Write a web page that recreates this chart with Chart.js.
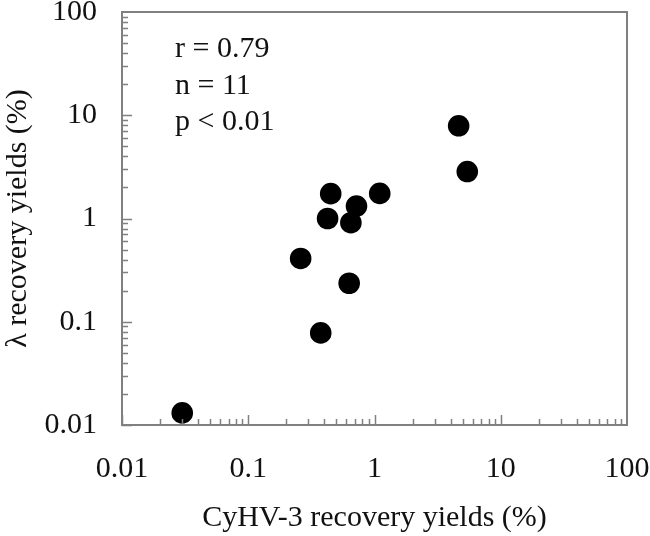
<!DOCTYPE html>
<html>
<head>
<meta charset="utf-8">
<script src="https://cdn.jsdelivr.net/npm/chart.js@4/dist/chart.umd.min.js"></script>
<style>
  html, body { margin: 0; padding: 0; background: #fff; }
  #wrap { width: 650px; height: 536px; }
</style>
</head>
<body>
<div id="wrap"><canvas id="scatter"></canvas></div>
<script>
// CyHV-3 vs lambda recovery yields (%)
const cyhvYields = [4.64, 5.43, 0.45, 1.10, 0.72, 0.425, 0.65, 0.26, 0.63, 0.375, 0.030];
const lambdaYields = [7.9, 2.85, 1.74, 1.75, 1.32, 1.0, 0.91, 0.41, 0.236, 0.078, 0.0131];
const decadeTicks = [0.01, 0.1, 1, 10, 100];
const statLines = ['r = 0.79', 'n = 11', 'p < 0.01'];

const axisGray = '#808080';
const serif = "'Liberation Serif', 'Times New Roman', serif";

const points = cyhvYields.map((x, i) => ({ x: x, y: lambdaYields[i] }));

// box around the plot, inward log ticks, and the stats text
const framePlugin = {
    id: 'frame',
    afterDraw(chart) {
        const ctx = chart.ctx;
        const area = chart.chartArea;
        const xs = chart.scales.x, ys = chart.scales.y;
        ctx.save();
        ctx.strokeStyle = axisGray;
        ctx.lineWidth = 1.5;
        for (let p = -2; p < 2; p++) {
            for (let k = 1; k <= 9; k++) {
                const v = k * Math.pow(10, p);
                const len = k === 1 ? 10 : 6;
                const px = Math.round(xs.getPixelForValue(v)) + 0.5;
                const py = Math.round(ys.getPixelForValue(v)) + 0.5;
                ctx.beginPath();
                ctx.moveTo(px, area.bottom);
                ctx.lineTo(px, area.bottom - len);
                ctx.moveTo(area.left, py);
                ctx.lineTo(area.left + len, py);
                ctx.stroke();
            }
        }
        ctx.lineWidth = 2;
        ctx.strokeRect(area.left, area.top, area.right - area.left, area.bottom - area.top);

        ctx.fillStyle = '#111';
        ctx.font = '30px ' + serif;
        ctx.textBaseline = 'alphabetic';
        statLines.forEach((t, i) => {
            ctx.fillText(t, area.left + 53, area.top + 45 + i * 36.5);
        });
        ctx.restore();
    }
};

window.onload = function () {
    const ctx = document.getElementById('scatter').getContext('2d');
    new Chart(ctx, {
        type: 'scatter',
        data: {
            datasets: [{
                data: points,
                backgroundColor: '#000',
                borderWidth: 0,
                pointRadius: 10.8,
                pointHoverRadius: 10.8
            }]
        },
        options: {
            responsive: true,
            maintainAspectRatio: false,
            animation: false,
            layout: { padding: { top: 12, right: 23, left: 0, bottom: 0 } },
            scales: {
                x: {
                    type: 'logarithmic',
                    min: 0.01,
                    max: 100,
                    afterBuildTicks: s => { s.ticks = decadeTicks.map(v => ({ value: v })); },
                    afterFit: s => { s.height = 111; s.paddingLeft = 0; s.paddingRight = 0; },
                    grid: { display: false, drawTicks: false },
                    border: { display: false },
                    ticks: {
                        padding: 26,
                        color: '#111',
                        font: { family: serif, size: 30 },
                        maxRotation: 0,
                        autoSkip: false,
                        callback: v => String(v)
                    },
                    title: {
                        display: true,
                        text: 'CyHV-3 recovery yields (%)',
                        color: '#111',
                        font: { family: serif, size: 30 },
                        padding: { top: 0, bottom: 0 }
                    }
                },
                y: {
                    type: 'logarithmic',
                    min: 0.01,
                    max: 100,
                    afterBuildTicks: s => { s.ticks = decadeTicks.map(v => ({ value: v })); },
                    afterFit: s => { s.width = 122; s.paddingTop = 0; s.paddingBottom = 0; },
                    grid: { display: false, drawTicks: false },
                    border: { display: false },
                    ticks: {
                        padding: 25,
                        color: '#111',
                        font: { family: serif, size: 30 },
                        autoSkip: false,
                        callback: v => String(v)
                    },
                    title: {
                        display: true,
                        text: 'λ recovery yields (%)',
                        color: '#111',
                        font: { family: serif, size: 30 },
                        padding: { top: 0, bottom: 0 }
                    }
                }
            },
            plugins: {
                legend: { display: false },
                tooltip: { enabled: false }
            }
        },
        plugins: [framePlugin]
    });
};
</script>
</body>
</html>
